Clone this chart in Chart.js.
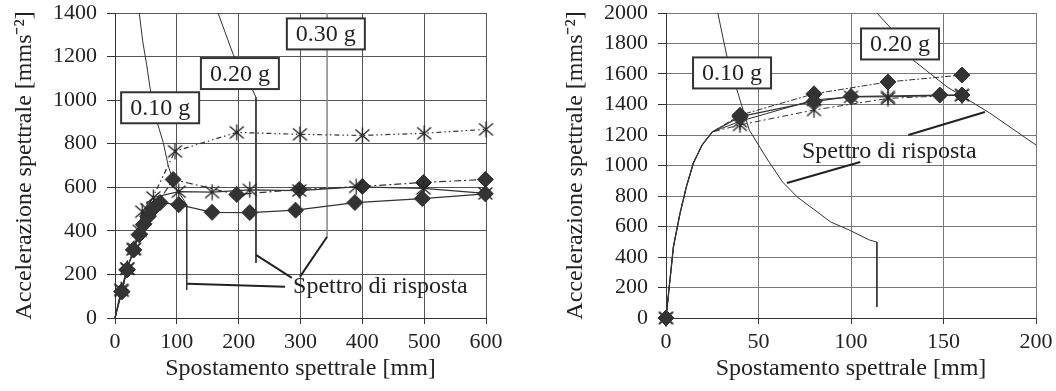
<!DOCTYPE html>
<html><head><meta charset="utf-8">
<script src="https://cdn.jsdelivr.net/npm/chart.js@4"></script>
<style>
html,body{margin:0;padding:0;background:#fff;}
#wrap{position:relative;width:1056px;height:391px;overflow:hidden;}
canvas{position:absolute;top:0;}
</style></head>
<body><div id="wrap">
<canvas id="c1" width="528" height="391" style="left:0"></canvas>
<canvas id="c2" width="528" height="391" style="left:528px"></canvas>
</div>
<script>
// ---------- LEFT CHART DATA ----------
const leftXRange = [0, 600, 100];
const leftYRange = [0, 1400, 200];
const leftSerA = [[0,0],[11,125],[20,225],[30,315],[40,400],[52,500],[97,765],[197,852],[299,843],[400,838],[500,848],[600,866]];
const leftSerB = [[0,0],[11,122],[20,222],[30,312],[40,385],[47,432],[54,468],[65,510],[94,636],[197,567],[298,590],[400,604],[499,622],[599,636]];
const leftSerC = [[0,0],[10,130],[20,228],[31,318],[44,488],[62,553],[103,580],[157,578],[218,588],[298,585],[390,602],[499,595],[599,572]];
const leftSerD = [[0,0],[11,120],[19,221],[30,313],[39,382],[46,428],[53,465],[64,507],[73,530],[103,520],[157,485],[218,484],[292,495],[388,530],[497,548],[599,570]];
const leftSp10 = [[37,1500],[39,1405],[45,1267],[51.5,1157],[57,1050],[68,900],[78,806],[86,700],[97,604],[116,520],[116,129]];
const leftSp20 = [[162,1500],[166,1405],[191,1211],[222,1050],[228,1013],[228,253]];
const leftSp30 = [[343,1400],[343,373]];
const leftPointers = [[[116.5,157],[275,143]], [[228,290],[286,184]], [[343,373],[299,189]]];
const leftLabels = [['0.10 g', 73, 965], ['0.20 g', 202, 1122], ['0.30 g', 341, 1304]];
const leftNote = ['Spettro di risposta', 288, 143];

// ---------- RIGHT CHART DATA ----------
const rightXRange = [0, 200, 50];
const rightYRange = [0, 2000, 200];
const rightInit = [[0,0],[4,466],[7.6,688],[11,860],[14.8,1016],[19.5,1134],[25,1220]];
const rightSer1 = [[40,1330],[80,1470],[120,1548],[160,1593]];
const rightSer2 = [[40,1320],[80,1420],[100,1452],[148,1462],[160,1462]];
const rightSer3 = [[40,1266],[80,1364],[120,1440],[160,1462]];
const rightSer4 = [[40,1290],[80,1430],[100,1450],[120,1450],[160,1462]];
const rightSp10 = [[27.5,2050],[28,2000],[33,1711],[40,1430],[45,1233],[55,1036],[63,892],[71,793],[89,630],[99,577],[110,511],[114,498],[114,72]];
const rightSp20 = [[113,2050],[114,2000],[121,1908],[133.5,1692],[152,1515],[175,1344],[200,1134]];
const rightSp0 = [[0,1500],[0,1000]];
const rightPointers = [[[131,1200],[172.4,1351]], [[65.4,885],[105,1023]]];
const rightLabels = [['0.10 g', 35.7, 1607], ['0.20 g', 126.5, 1797]];
const rightNote = ['Spettro di risposta', 73.5, 1089];

const xTitle = 'Spostamento spettrale [mm]';
const yTitle = 'Accelerazione spettrale [mms\u207B\u00B2]';

// ---------- helpers ----------
const FONT = "'Liberation Serif','Times New Roman',serif";
const pts = a => a.map(p => ({x: p[0], y: p[1]}));

// asterisk marker (X with a vertical stroke)
const asterisk = (() => {
  const c = document.createElement('canvas');
  c.width = 17; c.height = 17;
  const g = c.getContext('2d');
  g.strokeStyle = '#222'; g.lineWidth = 1.3;
  g.beginPath();
  g.moveTo(1.5, 2.5); g.lineTo(15.5, 14.5);
  g.moveTo(15.5, 2.5); g.lineTo(1.5, 14.5);
  g.moveTo(8.5, 0.5); g.lineTo(8.5, 16.5);
  g.stroke();
  return c;
})();

function markerSeries(data, style, dash, width, markFn) {
  const diamond = style === 'diamond';
  return {
    data: pts(data),
    showLine: true,
    tension: 0,
    clip: false,
    borderColor: '#333',
    borderWidth: width,
    borderDash: dash,
    pointStyle: diamond ? 'rectRot' : asterisk,
    pointRadius: ctx => markFn(ctx.dataIndex) ? 8 : 0,
    pointHoverRadius: 0,
    pointBackgroundColor: diamond ? '#333' : 'rgba(0,0,0,0)',
    pointBorderColor: '#333',
    pointBorderWidth: 1,
    order: 2
  };
}
function plainLine(data, width, color) {
  return {
    data: pts(data), showLine: true, tension: 0,
    borderColor: color || '#333', borderWidth: width,
    pointRadius: 0, pointHoverRadius: 0, order: 3
  };
}

const annotPlugin = {
  id: 'annot',
  afterDatasetsDraw(chart, args, opts) {
    const {ctx, scales: {x, y}} = chart;
    ctx.save();
    ctx.font = '24px ' + FONT;
    ctx.textBaseline = 'middle';
    (opts.labels || []).forEach(([t, vx, vy]) => {
      const cx = x.getPixelForValue(vx), cy = y.getPixelForValue(vy);
      const w = ctx.measureText(t).width + 18, h = 31;
      ctx.fillStyle = '#fff';
      ctx.fillRect(cx - w/2, cy - h/2, w, h);
      ctx.lineWidth = 2;
      ctx.strokeStyle = '#333';
      ctx.strokeRect(cx - w/2, cy - h/2, w, h);
      ctx.fillStyle = '#222';
      ctx.textAlign = 'center';
      ctx.fillText(t, cx, cy + 1);
    });
    if (opts.note) {
      const [t, vx, vy] = opts.note;
      ctx.fillStyle = '#222';
      ctx.textAlign = 'left';
      ctx.fillText(t, x.getPixelForValue(vx), y.getPixelForValue(vy));
    }
    ctx.restore();
  }
};

function makeChart(id, cfg) {
  const [xmin, xmax, xstep] = cfg.xr, [ymin, ymax, ystep] = cfg.yr;
  const gridColor = cfg.grid;
  return new Chart(document.getElementById(id), {
    type: 'scatter',
    data: {datasets: cfg.datasets},
    plugins: [annotPlugin],
    options: {
      responsive: false,
      animation: false,
      events: [],
      layout: {padding: {top: 13, right: cfg.padRight, left: 0, bottom: 0}},
      plugins: {legend: {display: false}, tooltip: {enabled: false},
                annot: {labels: cfg.labels, note: cfg.note}},
      scales: {
        x: {
          type: 'linear', min: xmin, max: xmax,
          ticks: {stepSize: xstep, color: '#222', font: {family: FONT, size: 22}, padding: 5, maxRotation: 0,
                  callback: v => String(v)},
          grid: {color: gridColor, lineWidth: 1, tickLength: 6, tickColor: '#333'},
          border: {color: '#333', width: 1},
          title: {display: true, text: xTitle, color: '#222', font: {family: FONT, size: 24}, padding: {top: 0, bottom: 8}},
          afterFit(s) { s.height = 73; s.paddingLeft = 0; s.paddingRight = 0; }
        },
        y: {
          type: 'linear', min: ymin, max: ymax,
          ticks: {stepSize: ystep, color: '#222', font: {family: FONT, size: 22}, padding: 10,
                  callback: v => String(v)},
          grid: {color: gridColor, lineWidth: 1, tickLength: 8, tickColor: '#333'},
          border: {color: '#333', width: 1},
          title: {display: true, text: yTitle, color: '#222', font: {family: FONT, size: 24}, padding: {top: cfg.yTitlePad, bottom: 0}},
          afterFit(s) { s.width = cfg.yWidth; s.paddingTop = 0; s.paddingBottom = 0; }
        }
      }
    }
  });
}

// ---------- LEFT ----------
const notFirst = i => i > 0;
makeChart('c1', {
  xr: leftXRange, yr: leftYRange, grid: '#555', padRight: 42, yWidth: 115, yTitlePad: 10,
  labels: leftLabels, note: leftNote,
  datasets: [
    plainLine(leftSp10, 1), plainLine(leftSp20, 1), plainLine(leftSp30, 1.5, '#888'),
    markerSeries(leftSerD, 'diamond', [], 1.2, notFirst),
    markerSeries(leftSerC, 'star', [], 1.2, notFirst),
    markerSeries(leftSerB, 'diamond', [7,3,2,3], 1.2, notFirst),
    markerSeries(leftSerA, 'star', [5,3,1.5,3,1.5,3], 1.2, notFirst),
    ...leftPointers.map(p => Object.assign(plainLine(p, 2, '#222'), {order: 1}))
  ]
});

// ---------- RIGHT ----------
const nInit = rightInit.length;
const rMark = i => i === 0 || i >= nInit;
makeChart('c2', {
  xr: rightXRange, yr: rightYRange, grid: '#777', padRight: 20, yWidth: 138, yTitlePad: 33,
  labels: rightLabels, note: rightNote,
  datasets: [
    plainLine(rightSp10, 1), plainLine(rightSp20, 1), plainLine(rightSp0, 1.5, '#333'),
    markerSeries(rightInit.concat(rightSer2), 'diamond', [], 1.3, rMark),
    markerSeries(rightInit.concat(rightSer4), 'star', [], 1, rMark),
    markerSeries(rightInit.concat(rightSer3), 'star', [6,3,2,3], 1, rMark),
    markerSeries(rightInit.concat(rightSer1), 'diamond', [2,2,6,2], 1, rMark),
    ...rightPointers.map(p => Object.assign(plainLine(p, 2, '#222'), {order: 1}))
  ]
});
</script>
</body></html>
